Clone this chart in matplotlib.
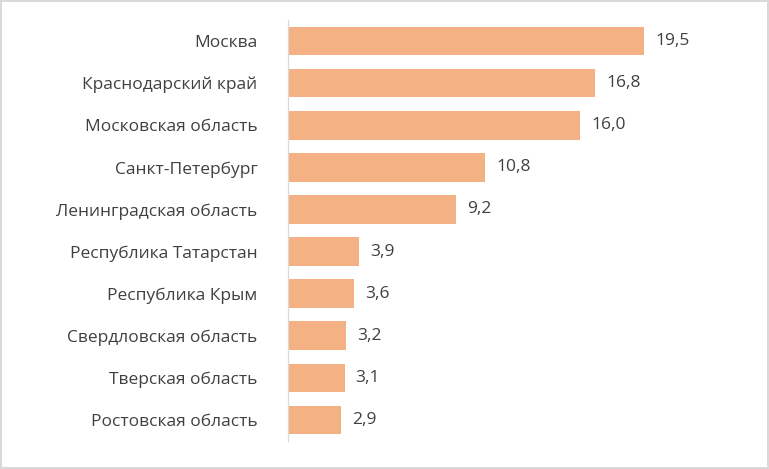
import matplotlib
matplotlib.use("Agg")
import matplotlib.pyplot as plt

categories = ["Москва", "Краснодарский край", "Московская область", "Санкт-Петербург",
              "Ленинградская область", "Республика Татарстан", "Республика Крым",
              "Свердловская область", "Тверская область", "Ростовская область"]
values = [19.5, 16.8, 16.0, 10.8, 9.2, 3.9, 3.6, 3.2, 3.1, 2.9]

plt.rcParams["font.family"] = "Open Sans"
fig = plt.figure(figsize=(7.69, 4.69), dpi=100)
fig.patch.set_edgecolor("#d9d9d9")
fig.patch.set_linewidth(1.5)
ax = fig.add_axes([288/769, 1-441/469, 457/769, 421/469])
y = list(range(len(categories)))
ax.barh(y, values, height=0.68, color="#F4B183")
ax.set_ylim(len(categories)-0.5, -0.5)
ax.set_xlim(0, 25)
ax.set_yticks(y)
ax.set_yticklabels(categories, fontsize=12.5, color="#404040")
ax.tick_params(axis="y", length=0, pad=22)
ax.set_xticks([])
for s in ["top", "right", "bottom"]:
    ax.spines[s].set_visible(False)
ax.spines["left"].set_color("#d9d9d9")
for yi, v in zip(y, values):
    ax.text(v + 0.6, yi, f"{v:.1f}".replace(".", ","), va="center", ha="left",
            fontsize=12.5, color="#404040")
fig.savefig("out.png", dpi=100)
